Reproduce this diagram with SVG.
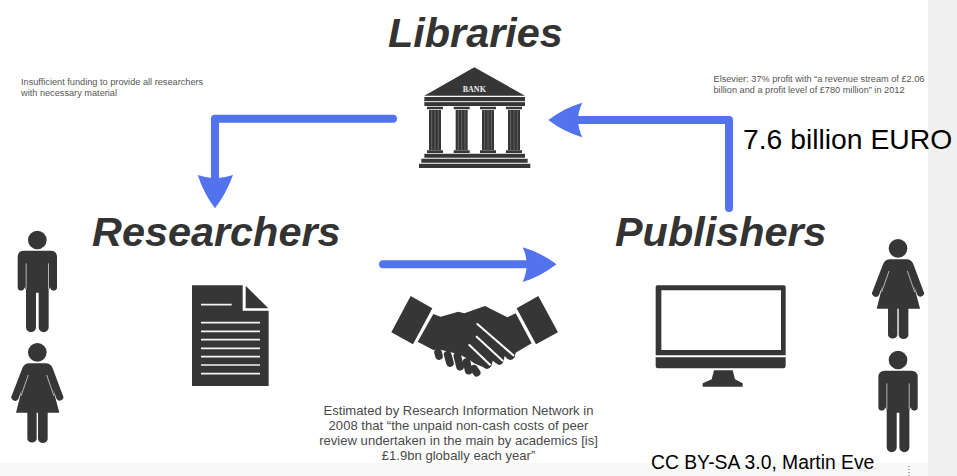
<svg xmlns="http://www.w3.org/2000/svg" width="957" height="476" viewBox="0 0 957 476">
<style>
.d{fill:#363636}
.w{stroke:#f4f4f4;fill:none}
.h{font-family:"Liberation Sans",Arial,sans-serif;font-weight:bold;font-style:italic;font-size:41.400px;fill:#333}
.s{font-family:"Liberation Sans",Arial,sans-serif;font-size:9.200px;fill:#555}
.m{font-family:"Liberation Sans",Arial,sans-serif;font-size:13.100px;fill:#4a4a4a;text-anchor:middle}
.b{font-family:"Liberation Sans",Arial,sans-serif;fill:#000}
.a{fill:none;stroke:#5272ee;stroke-width:8;stroke-linecap:round;stroke-linejoin:round}
.ah{fill:#5272ee}
</style>
<defs>
<g id="male">
<circle class="d" cx="112" cy="60" r="28"/>
<path class="d" d="M72 92H152Q171 92 171 112V202A10 10 0 0 1 151 202L146 210V322A15 15 0 0 1 116 322V218H108V322A15 15 0 0 1 78 322V210L73 202A10 10 0 0 1 53 202V112Q53 92 72 92Z"/>
<path class="w" stroke-width="2" d="M78.500 130V208M145.500 130V208"/>
</g>
<g id="female">
<circle class="d" cx="112" cy="397" r="28"/>
<path class="d" d="M88 430H137Q152 430 158 445L188 525A10 10 0 0 1 170 537L160 510L178 578H143V658A15 15 0 0 1 114 658V578H110V658A15 15 0 0 1 82 658V578H48L65 510L55 537A10 10 0 0 1 36 525L67 445Q73 430 88 430Z"/>
<path class="w" stroke-width="2" d="M85 465L63 528M140 465L162 528"/>
</g>
<g id="col">
<path class="d" d="M0 0H48V8H0ZM6 10H42V130H6ZM0 131H48V139H0Z"/>
<path class="w" stroke-width="1.500" opacity=".5" d="M14 10V130M24 10V130M34 10V130"/>
</g>
</defs>
<rect width="957" height="476" fill="#fff"/>
<rect x="928" width="29" height="476" fill="#f0f0f0"/>
<rect y="463" width="928" height="13" fill="#f8f8f8"/>
<path d="M909 466V476" stroke="#555" stroke-width="1" stroke-dasharray="1 2"/>

<g id="connectors">
<path class="a" d="M393 118.700H215V178"/>
<path class="ah" d="M197.700 175Q207 178 215 178.500Q224 178 233 175Q226 194 215 208.300Q204 194 197.700 175Z"/>
<path class="a" d="M729 208V120H575"/>
<path class="ah" d="M548.300 120Q564 108 582.300 102.700Q578 112 578 120Q578 128 582.300 137.300Q564 132 548.300 120Z"/>
<path class="a" d="M383 264.300H530"/>
<path class="ah" d="M556.500 264.300Q540 252 522.700 247.300Q526.700 256 526.700 264.300Q526.700 273 522.700 282Q540 277 556.500 264.300Z"/>
</g>

<g id="libraries">
<text class="h" x="388" y="47">Libraries</text>
<g transform="translate(380 0) scale(.33333)">
<path class="d" d="M283 202L435 287H133Z"/>
<path class="d" d="M133 291H435V318H133Z"/>
<path class="w" stroke-width="3" d="M133 305H435"/>
<use href="#col" x="141" y="320"/><use href="#col" x="221" y="320"/><use href="#col" x="300" y="320"/><use href="#col" x="378" y="320"/>
<path class="d" d="M133 461H435V473H133ZM124 476H443V488H124ZM117 491H451V504H117Z"/>
<text x="283" y="277" font-family="Liberation Serif,serif" font-weight="bold" font-size="24" fill="#eee" text-anchor="middle">BANK</text>
</g>
</g>

<g id="researchers">
<text class="h" x="92" y="246">Researchers</text>
<g transform="translate(0 220) scale(.33333)">
<path class="d" d="M576 196H728V272H806V498H576Z"/>
<path class="d" d="M737 197L805 265H737Z"/>
<path class="w" stroke-width="5" d="M603 254H695M603 308H780M603 334H780M603 359H780M603 385H780M603 410H780M603 435H780M603 461H780"/>
<use href="#male"/>
<use href="#female"/>
</g>
</g>

<g id="handshake">
<g transform="translate(370 280) scale(.33333)">
<path class="d" d="M122 48L187 85L129 193L64 157ZM505 48L440 85L498 193L564 157Z"/>
<path d="M204 217L207 228M233 224L240 249M262 228L270 260M290 246L296 272M312 266L320 278" stroke="#fff" stroke-width="32" stroke-linecap="round" fill="none"/>
<path class="d" d="M190 102L212 110L265 95L283 100L345 78L412 112L437 100L485 190L437 218L434 232Q426 246 412 236L404 228L400 246Q392 262 378 250L368 242L364 258Q354 274 340 262L312 250L296 238L270 224L240 216L205 208L190 210L143 185Z"/>
<path d="M322 132L430 226M320 170L398 242M298 195L360 254" stroke="#fff" stroke-width="6" fill="none" stroke-linecap="round"/>
<path d="M204 217L207 228M233 224L240 249M262 228L270 260M290 246L296 272M312 266L320 278" stroke="#363636" stroke-width="23" stroke-linecap="round" fill="none"/>
</g>
</g>

<g id="publishers">
<text class="h" x="615" y="246">Publishers</text>
<g transform="translate(640 230) scale(.33333)">
<path class="d" fill-rule="evenodd" d="M52 166H432Q437 166 437 171V376H47V171Q47 166 52 166ZM64 181V360H423V181Z"/>
<path class="d" d="M47 382H437V408Q437 415 430 415H54Q47 415 47 408Z"/>
<path class="d" d="M222 421H278L285 448L308 460V470H188V460L215 448Z"/>
</g>
<g transform="translate(860.700 340) scale(.33333)"><use href="#male"/></g>
<g transform="translate(860.700 116) scale(.33333)"><use href="#female"/></g>
</g>

<g id="labels">
<text class="s" x="21" y="85">Insufficient funding to provide all researchers</text>
<text class="s" x="21" y="96">with necessary material</text>
<text class="s" x="713.500" y="82">Elsevier: 37% profit with “a revenue stream of £2.06</text>
<text class="s" x="713.500" y="93">billion and a profit level of £780 million” in 2012</text>
<text class="b" x="743" y="149" font-size="28.300">7.6 billion EURO</text>
<text class="m" x="458.500" y="415">Estimated by Research Information Network in</text>
<text class="m" x="458.500" y="430">2008 that “the unpaid non-cash costs of peer</text>
<text class="m" x="458.500" y="445">review undertaken in the main by academics [is]</text>
<text class="m" x="458.500" y="460">£1.9bn globally each year”</text>
<text class="b" x="651" y="469" font-size="19.300">CC BY-SA 3.0, Martin Eve</text>
</g>
</svg>
